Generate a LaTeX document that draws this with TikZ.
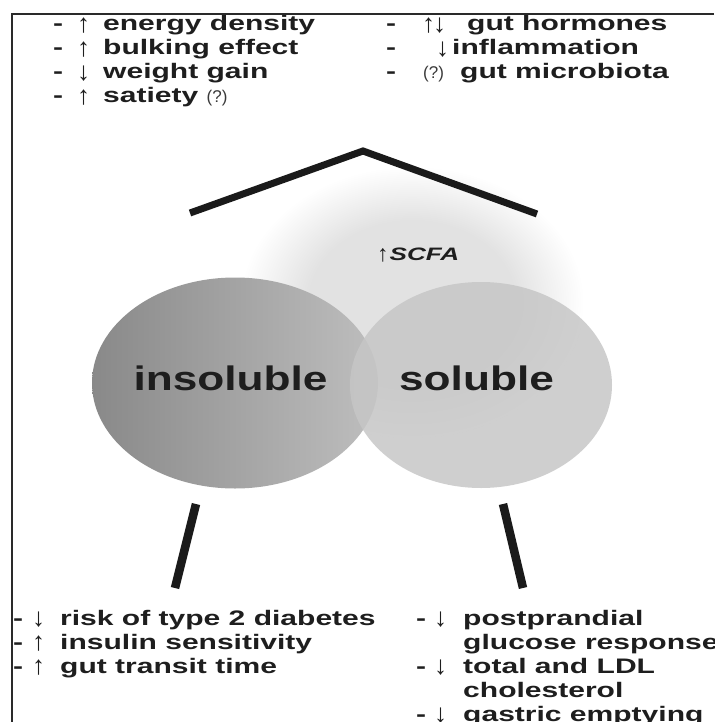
\documentclass[tikz,border=0pt]{standalone}
\usepackage{fontspec}
\usetikzlibrary{shapes.geometric}
\setmainfont{Liberation Sans}
\newfontfamily\wf[FakeStretch=1.43]{Liberation Sans Bold}
\newfontfamily\bigf[FakeStretch=1.3]{Liberation Sans Bold}
\newfontfamily\itf[FakeStretch=1.45]{Liberation Sans Bold Italic}
\newfontfamily\arf{Liberation Sans}
\newfontfamily\arfb{Liberation Sans Bold}
\definecolor{txtc}{HTML}{1E1E1E}
\definecolor{barc}{HTML}{1A1A1A}
\definecolor{qgray}{HTML}{3A3A3A}
\definecolor{insL}{HTML}{898989}
\definecolor{insM}{HTML}{A0A0A0}
\definecolor{insR}{HTML}{BEBEBE}
\definecolor{solc}{HTML}{C6C6C6}
\definecolor{cloudc}{HTML}{E2E2E2}
\definecolor{framec}{HTML}{2A2A2A}
\pgfdeclareradialshading{cloud}{\pgfpoint{0bp}{0bp}}{color(0bp)=(cloudc); color(15bp)=(cloudc); color(25bp)=(white); color(50bp)=(white)}
\newcommand\ar[1]{\raisebox{-1.5pt}{\arfb\fontsize{26}{20}\selectfont #1}}
\newcommand\qm{{\arf\fontsize{17}{20}\selectfont\color{qgray}(?)}}
\newcommand\lead[3]{\hbox to #1{-\hskip #2\ar{#3}\hfil}}
\tikzset{
  txt/.style={anchor=base west, inner sep=0pt, text=txtc, font=\wf\fontsize{21}{24}\selectfont},
  big/.style={anchor=base, inner sep=0pt, text=txtc, font=\bigf\fontsize{34}{40}\selectfont},
  roofbar/.style={draw=barc, line width=7pt, miter limit=10},
  legbar/.style={draw=barc, line width=8.5pt},
  blob/.style={ellipse, inner sep=0pt, draw=none},
}
\begin{document}
\begin{tikzpicture}[x=1pt, y=-1pt]
\useasboundingbox (0,0) rectangle (714,722);
% SCFA cloud
\shade[shading=cloud] (412,302) ellipse [x radius=172, y radius=136];
% ellipses
\node[blob, minimum width=286pt, minimum height=211pt, left color=insL, middle color=insM, right color=insR] (ins) at (235,383) {};
\node[blob, minimum width=262pt, minimum height=206pt, fill=solc, fill opacity=0.84] (sol) at (481,385) {};
\node[big] (insl) at (230.5,390) {insoluble};
\node[big] (soll) at (476.5,390) {soluble};
\node[anchor=base west, inner sep=0pt, text=txtc] (scfa) at (377,260) {\raisebox{-1pt}{\arfb\fontsize{23}{16}\selectfont ↑}\hskip 1pt{\itf\fontsize{18}{20}\selectfont SCFA}};
% roof
\coordinate (roofL) at (190,213);
\coordinate (roofT) at (363,151);
\coordinate (roofR) at (537,214);
\draw[roofbar] (roofL) -- (roofT) -- (roofR);
% legs
\coordinate (legLa) at (196,504);
\coordinate (legLb) at (175,588);
\coordinate (legRa) at (503,504);
\coordinate (legRb) at (523,588);
\draw[legbar] (legLa) -- (legLb);
\draw[legbar] (legRa) -- (legRb);
% top left
\node[txt] (tl1) at (53,31) {\lead{50pt}{14pt}{↑}energy density};
\node[txt] (tl2) at (53,55) {\lead{50pt}{14pt}{↑}bulking effect};
\node[txt] (tl3) at (53,79) {\lead{50pt}{14pt}{↓}weight gain};
\node[txt] (tl4) at (53,103) {\lead{50pt}{14pt}{↑}satiety \qm};
% top right
\node[txt] (tr1) at (386,31) {\hbox to 36pt{-\hfil}\hbox to 45pt{\ar{↑\hskip-2pt↓}\hfil}gut hormones};
\node[txt] (tr2) at (386,55) {\hbox to 50pt{-\hfil}\hbox to 16pt{\ar{↓}\hfil}inflammation};
\node[txt] (tr3) at (386,79) {\hbox to 37pt{-\hfil}\hbox to 37pt{\qm\hfil}gut microbiota};
% bottom left
\node[txt] (bl1) at (13,625) {\lead{47pt}{9pt}{↓}risk of type 2 diabetes};
\node[txt] (bl2) at (13,649) {\lead{47pt}{9pt}{↑}insulin sensitivity};
\node[txt] (bl3) at (13,673) {\lead{47pt}{9pt}{↑}gut transit time};
% bottom right
\node[txt] (br1) at (416,625) {\lead{47pt}{8pt}{↓}postprandial};
\node[txt] (br2) at (463,649) {glucose response};
\node[txt] (br3) at (416,673) {\lead{47pt}{8pt}{↓}total and LDL};
\node[txt] (br4) at (463,697) {cholesterol};
\node[txt] (br5) at (416,721) {\lead{47pt}{8pt}{↓}gastric emptying};
% frame
\draw[framec, line width=2pt] (714,14) -- (12,14) -- (12,722);
\end{tikzpicture}
\end{document}
